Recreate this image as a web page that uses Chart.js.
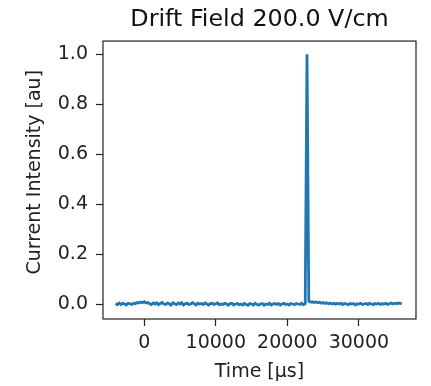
<!DOCTYPE html>
<html>
<head>
<meta charset="utf-8">
<script src="https://cdn.jsdelivr.net/npm/chart.js@4"></script>
<style>
  body { margin: 0; background: #fff; }
</style>
</head>
<body>
<canvas id="myChart" width="431" height="386"></canvas>
<script>
// sampling grid of the trace (microseconds)
var tStart = -4000;
var tStep = 250;

// normalised current, one value per sample
var current = [
  0.002, -0.003, 0.004, -0.002, 0.003, 0.000, -0.004, 0.003, 0.001, -0.002,
  0.003, 0.001, 0.006, 0.004, 0.008, 0.005, 0.009, 0.004, 0.006, 0.001,
  -0.002, 0.004, 0.000, 0.005, -0.003, 0.002, 0.006, 0.000, -0.002, 0.004,
  0.001, -0.004, 0.005, 0.001, -0.002, 0.004, 0.000, 0.005, -0.004, 0.002,
  0.003, -0.002, 0.000, 0.005, 0.001, -0.004, 0.003, 0.000, 0.002, -0.002,
  0.004, 0.000, -0.004, 0.002, 0.003, -0.002, 0.001, 0.004, -0.003, 0.000,
  -0.002, 0.003, 0.000, -0.005, 0.002, 0.003, -0.004, 0.000, 0.002, -0.003,
  0.000, -0.004, 0.002, -0.002, -0.005, 0.002, 0.000, -0.004, 0.003, -0.002,
  -0.004, 0.000, 0.002, -0.005, 0.000, -0.002, 0.003, -0.004, 0.000, 0.002,
  -0.002, 0.002, -0.004, 0.000, 0.003, -0.002, 0.000, -0.004, 0.002, 0.000,
  -0.003, 0.002, 0.000, -0.002, 0.003, -0.003, 0.002, 1.000, 0.011, 0.008,
  0.009, 0.006, 0.008, 0.005, 0.007, 0.003, 0.006, 0.002, 0.005, 0.001,
  0.004, 0.000, 0.003, -0.001, 0.003, 0.000, 0.003, -0.002, 0.002, 0.000,
  -0.003, 0.002, 0.000, 0.002, -0.004, 0.001, 0.000, 0.003, -0.002, 0.000,
  0.002, -0.002, 0.003, 0.000, -0.003, 0.002, 0.000, 0.003, -0.002, 0.001,
  0.000, 0.003, -0.002, 0.001, 0.004, 0.000, 0.003, 0.001, 0.004, 0.003,
  0.002
];

var xTicks = [0, 10000, 20000, 30000];
var yTicks = [0.0, 0.2, 0.4, 0.6, 0.8, 1.0];

var points = [];
for (var i = 0; i < current.length; i++) {
  points.push({ x: tStart + i * tStep, y: current[i] });
}

// box around the plotting area, like a matplotlib axes frame
var frame = {
  id: 'frame',
  afterDraw: function(chart) {
    var a = chart.chartArea;
    var ctx = chart.ctx;
    ctx.save();
    ctx.strokeStyle = '#222';
    ctx.lineWidth = 1.2;
    ctx.strokeRect(a.left, a.top, a.right - a.left, a.bottom - a.top);
    ctx.restore();
  }
};

var tickFont = { family: 'DejaVu Sans', size: 19 };

new Chart(document.getElementById('myChart'), {
  type: 'line',
  data: {
    datasets: [{
      data: points,
      borderColor: '#1f77b4',
      borderWidth: 2.8,
      pointRadius: 0,
      tension: 0,
      fill: false
    }]
  },
  options: {
    responsive: false,
    animation: false,
    layout: { padding: { left: 0, right: 15, top: 0, bottom: 0 } },
    plugins: {
      legend: { display: false },
      tooltip: { enabled: false },
      title: {
        display: true,
        text: 'Drift Field 200.0 V/cm',
        fullSize: false,
        color: '#111',
        font: { family: 'DejaVu Sans', size: 23.8, weight: 'normal' },
        padding: { top: 5.5, bottom: 7 }
      }
    },
    scales: {
      x: {
        type: 'linear',
        min: -5760,
        max: 37980,
        afterFit: function(s) { s.height = 67; },
        afterBuildTicks: function(s) {
          s.ticks = xTicks.map(function(v) { return { value: v }; });
        },
        border: { display: false },
        grid: { drawOnChartArea: false, drawTicks: true, tickLength: 7, tickColor: '#222', tickWidth: 1.2 },
        ticks: {
          color: '#222',
          font: tickFont,
          padding: 6,
          maxRotation: 0,
          callback: function(v) { return String(v); }
        },
        title: {
          display: true,
          text: 'Time [μs]',
          color: '#222',
          font: tickFont,
          padding: { top: 0, bottom: 3 }
        }
      },
      y: {
        min: -0.06,
        max: 1.053,
        afterFit: function(s) { s.width = 103; },
        afterBuildTicks: function(s) {
          s.ticks = yTicks.map(function(v) { return { value: v }; });
        },
        border: { display: false },
        grid: { drawOnChartArea: false, drawTicks: true, tickLength: 7, tickColor: '#222', tickWidth: 1.2 },
        ticks: {
          color: '#222',
          font: tickFont,
          padding: 8,
          callback: function(v) { return v.toFixed(1); }
        },
        title: {
          display: true,
          text: '\u2002 Current Intensity [au]',
          color: '#222',
          font: tickFont,
          padding: { top: 23.6, bottom: 0 }
        }
      }
    }
  },
  plugins: [frame]
});
</script>
</body>
</html>
